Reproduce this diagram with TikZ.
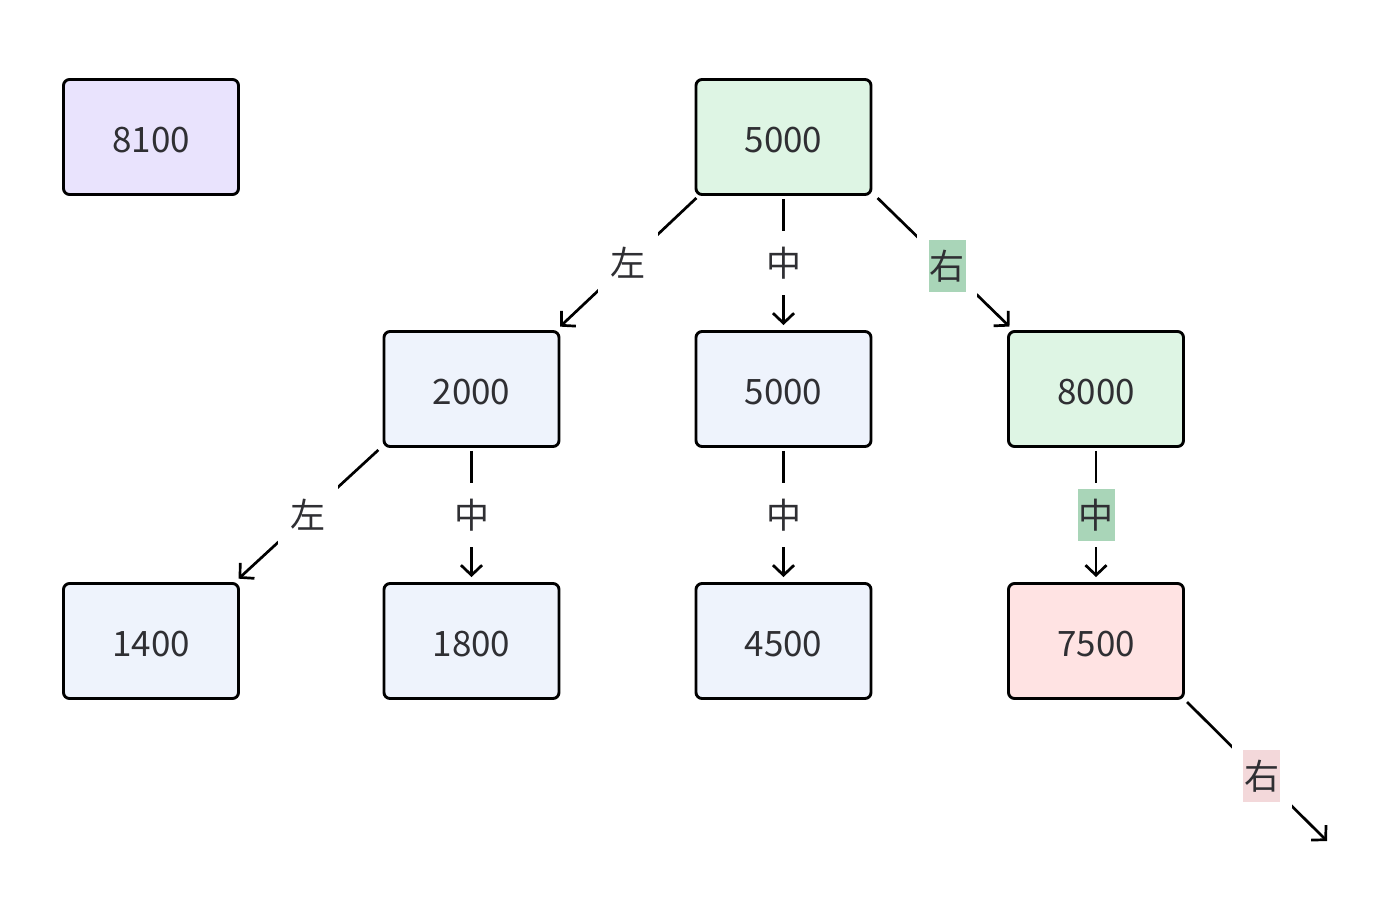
\documentclass[tikz,border=0pt]{standalone}
\usepackage{fontspec}
\setmainfont{Noto Sans CJK SC}
\usetikzlibrary{arrows.meta}
\definecolor{textgray}{HTML}{2F2F33}
\definecolor{lavfill}{HTML}{E9E3FD}
\definecolor{greenfill}{HTML}{DEF5E4}
\definecolor{bluefill}{HTML}{EEF3FC}
\definecolor{pinkfill}{HTML}{FFE3E3}
\definecolor{greenlbl}{HTML}{A9D5B8}
\definecolor{pinklbl}{HTML}{F3D8DA}
% coloured background behind an edge label
\newcommand{\lblbox}[2]{{\setlength{\fboxsep}{0pt}\colorbox{#1}{\rule[-12.5bp]{0pt}{52bp}\hspace{1bp}#2\hspace{1bp}}}}
\begin{document}
\begin{tikzpicture}[>={Straight Barb[length=10bp,width=21bp]},line join=round,
  box/.style={draw=black,line width=2.9bp,rounded corners=6bp,minimum width=175bp,minimum height=115bp,text height=31bp,text depth=0bp,font=\fontsize{35bp}{42bp}\selectfont,text=textgray},
  lavbox/.style={box,fill=lavfill},
  greenbox/.style={box,fill=greenfill},
  bluebox/.style={box,fill=bluefill},
  pinkbox/.style={box,fill=pinkfill},
  edge/.style={black,line width=2.7bp,->,shorten <=3bp,shorten >=5bp},
  lbl/.style={font=\fontsize{35bp}{42bp}\selectfont,text=textgray,inner sep=0bp,minimum height=64bp,minimum width=60bp,fill=white},
]
\useasboundingbox (0bp,0bp) rectangle (1380bp,-912bp);
%%
\node (node_0) at (151bp,-137bp) [lavbox] {8100};
  \node (node_1) at (783.5bp,-137bp) [greenbox] {5000};
  \node (node_2) at (471.5bp,-389bp) [bluebox] {2000};
  \node (node_3) at (783.5bp,-389bp) [bluebox] {5000};
  \node (node_4) at (1096bp,-389bp) [greenbox] {8000};
  \node (node_5) at (151bp,-641bp) [bluebox] {1400};
  \node (node_6) at (471.5bp,-641bp) [bluebox] {1800};
  \node (node_7) at (783.5bp,-641bp) [bluebox] {4500};
  \node (node_8) at (1096bp,-641bp) [pinkbox] {7500};
  \coordinate (end_0) at (1327bp,-841bp);
  \draw [edge] ([xshift=4bp]node_1.south west) -- node[lbl] {左} ([xshift=-4bp]node_2.north east);
  \draw [edge] (node_1) -- node[lbl] {中} (node_3);
  \draw [edge] ([xshift=3bp]node_1.south east) -- node[lbl,pos=0.52] {\lblbox{greenlbl}{右}} ([xshift=6bp]node_4.north west);
  \draw [edge] ([xshift=-2bp]node_2.south west) -- node[lbl] {左} ([xshift=-5bp]node_5.north east);
  \draw [edge] (node_2) -- node[lbl] {中} (node_6);
  \draw [edge] (node_3) -- node[lbl] {中} (node_7);
  \draw [edge] (node_4) -- node[lbl] {\lblbox{greenlbl}{中}} (node_8);
  \draw [edge,shorten >=0bp] (node_8.south east) -- node[lbl,pos=0.54] {\lblbox{pinklbl}{右}} (end_0);
%
\end{tikzpicture}
\end{document}
